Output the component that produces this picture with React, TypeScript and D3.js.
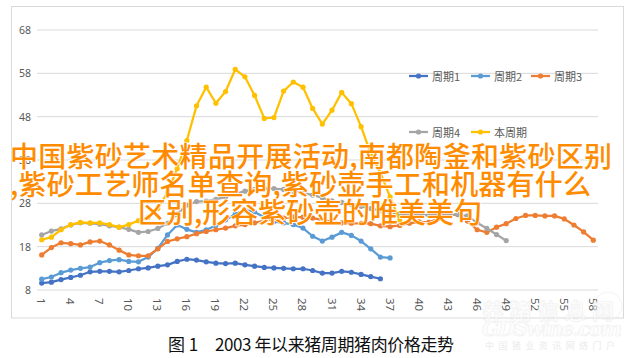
import React from "react";
import * as d3 from "d3";

const categories: number[] = Array.from({ length: 58 }, (_, i) => i + 1);
const yTicks = [8, 18, 28, 38, 48, 58, 68];
const xTickLabels = ["1","4","7","10","13","16","19","22","25","28","31","34","37","40","43","46","49","52","55","58"];

const cycle1 = [9.6, 9.8, 10.4, 10.9, 11.4, 12.2, 12.3, 12.3, 12.2, 12.5, 12.9, 13.1, 13.5, 13.8, 14.6, 15.1, 14.9, 14.5, 14.2, 14.1, 14.2, 13.8, 13.5, 13.2, 13.1, 13.0, 12.9, 12.9, 12.5, 11.9, 11.9, 12.3, 12.1, 11.6, 11.1, 10.6];
const cycle2 = [10.5, 11.0, 12.0, 12.6, 13.0, 13.3, 14.3, 14.8, 15.0, 14.6, 14.5, 15.6, 17.6, 20.7, 23.0, 22.0, 21.3, 21.9, 22.9, 24.2, 25.5, 26.5, 26.0, 24.8, 23.8, 23.5, 23.1, 22.3, 20.4, 19.3, 20.2, 21.3, 20.6, 19.3, 17.5, 15.6, 15.4];
const cycle3 = [16.1, 17.8, 18.9, 18.7, 18.4, 19.1, 19.3, 18.4, 17.2, 16.1, 15.9, 15.9, 17.5, 19.2, 19.8, 20.3, 21.0, 21.5, 21.9, 22.3, 22.8, 23.1, 23.5, 24.0, 24.3, 24.6, 24.8, 24.8, 24.6, 24.2, 23.8, 23.5, 23.4, 23.4, 23.3, 22.8, 22.6, 22.9, 23.4, 23.7, 23.6, 24.5, 25.3, 25.4, 23.9, 21.9, 21.3, 22.5, 23.3, 24.5, 25.2, 25.2, 25.1, 25.1, 24.4, 23.0, 21.4, 19.5];
const cycle4 = [20.7, 21.6, 22.1, 23.0, 23.5, 23.4, 23.2, 22.8, 22.5, 22.0, 21.3, 21.5, 22.2, 23.4, 25.5, 27.6, 28.4, 28.5, 28.9, 29.5, 30.2, 30.8, 31.2, 31.4, 31.4, 31.2, 30.8, 30.4, 29.9, 29.3, 28.6, 28.2, 27.8, 27.3, 26.8, 26.3, 25.9, 25.6, 25.4, 25.3, 25.3, 25.4, 25.5, 25.4, 25.1, 23.5, 22.2, 20.8, 19.4];
const current = [19.6, 20.2, 21.9, 23.1, 23.6, 23.5, 23.5, 23.1, 22.5, 23.1, 24.0, 24.8, 26.8, 30.5, 36.0, 42.5, 50.5, 54.8, 51.1, 53.8, 58.9, 57.2, 52.9, 47.6, 47.8, 53.9, 56.0, 54.8, 49.9, 46.3, 49.5, 53.6, 51.0, 45.7, 39.5, 35.0, 29.5, 24.0];

const seriesNames = ["周期1", "周期2", "周期3", "周期4", "本周期"];
const seriesColors = ["#4472C4", "#5B9BD5", "#ED7D31", "#A5A5A5", "#FFC000"];
const seriesData = [cycle1, cycle2, cycle3, cycle4, current];

const titleLines = [
  "中国紫砂艺术精品开展活动,南都陶釜和紫砂区别",
  ",紫砂工艺师名单查询,紫砂壶手工和机器有什么",
  "区别,形容紫砂壶的唯美美句",
];
const captionLabel = "图 1";
const captionText = "2003 年以来猪周期猪肉价格走势";
const watermarkLines = ["养猪信息网", "GDSwine.com", "中国猪业资讯网络门户"];

export default function App() {
  const W = 634, H = 358;
  const x = d3.scalePoint<number>().domain(categories).range([41.7, 593.3]);
  const y = d3.scaleLinear().domain([8, 68]).range([290, 30]);
  const line = d3.line<number>().x((_, i) => x(i + 1) as number).y((d) => y(d));
  const font = "'Noto Sans', 'Noto Sans CJK SC', sans-serif";
  const cjk = "'Noto Sans CJK SC', sans-serif";

  const legendItems = [
    { name: seriesNames[0], color: seriesColors[0], lx: 409, ly: 76 },
    { name: seriesNames[1], color: seriesColors[1], lx: 471, ly: 76 },
    { name: seriesNames[2], color: seriesColors[2], lx: 531, ly: 76 },
    { name: seriesNames[3], color: seriesColors[3], lx: 409, ly: 132 },
    { name: seriesNames[4], color: seriesColors[4], lx: 471, ly: 132 },
  ];

  return (
    <svg width={W} height={H} style={{ position: "absolute", left: 0, top: 0, background: "#fff" }}>
      <rect x={0} y={0} width={W} height={H} fill="#fff" />
      <rect x={11.5} y={6.5} width={612} height={311.5} fill="#fff" stroke="#d9d9d9" strokeWidth={1} />
      {yTicks.map((t) => (
        <g key={t}>
          <line x1={37} x2={598} y1={y(t)} y2={y(t)} stroke="#d9d9d9" strokeWidth={1} />
          <text x={31} y={y(t)} textAnchor="end" dominantBaseline="central" fontSize={10.5} fill="#595959" fontFamily={font}>{t}</text>
        </g>
      ))}
      {xTickLabels.map((lab) => {
        const cx = x(+lab) as number;
        return (
          <text key={lab} transform={`translate(${cx},${298}) rotate(90)`} textAnchor="start" dominantBaseline="central" fontSize={11.5} fill="#595959" fontFamily={font}>{lab}</text>
        );
      })}
      {seriesData.map((data, si) => (
        <g key={si}>
          <path d={line(data) || ""} fill="none" stroke={seriesColors[si]} strokeWidth={2.25} strokeLinejoin="round" />
          {data.map((v, i) => (
            <circle key={i} cx={x(i + 1)} cy={y(v)} r={2.6} fill={seriesColors[si]} />
          ))}
        </g>
      ))}
      {legendItems.map((it) => (
        <g key={it.name}>
          <line x1={it.lx} x2={it.lx + 19} y1={it.ly} y2={it.ly} stroke={it.color} strokeWidth={2.25} />
          <circle cx={it.lx + 9.5} cy={it.ly} r={2.6} fill={it.color} />
          <text x={it.lx + 23} y={it.ly} dominantBaseline="central" fontSize={11} fill="#595959" fontFamily={cjk}>{it.name}</text>
        </g>
      ))}
      <text x={168} y={343} dominantBaseline="central" fontSize={17} fill="#111" fontFamily={cjk}>{captionLabel}</text>
      <text x={215} y={343} dominantBaseline="central" fontSize={17} fill="#111" fontFamily={cjk} textLength={239}>{captionText}</text>
      <g opacity={0.6}>
        <text x={548} y={309} textAnchor="middle" dominantBaseline="central" fontSize={22} fontWeight={700} fill="#fdfdfd" stroke="#e8e8e8" strokeWidth={0.7} fontFamily={cjk} textLength={132}>{watermarkLines[0]}</text>
        <text x={552} y={329} textAnchor="middle" dominantBaseline="central" fontSize={20} fontWeight={700} fontStyle="italic" fill="#fdfdfd" stroke="#e8e8e8" strokeWidth={0.7} fontFamily="'DejaVu Serif', serif" textLength={140}>{watermarkLines[1]}</text>
        <text x={550} y={345} textAnchor="middle" dominantBaseline="central" fontSize={9} fill="#e0e0e0" fontFamily={cjk} textLength={130}>{watermarkLines[2]}</text>
        <circle cx={608} cy={306} r={14} fill="none" stroke="#eeeeee" strokeWidth={1} />
      </g>
      {titleLines.map((t, i) => (
        <text key={i} x={i === 2 ? 310 : 10} y={155 + i * 28} textAnchor={i === 2 ? "middle" : "start"} dominantBaseline="central" fontSize={28} fontWeight={500} fill="#FF8C00" stroke="#fff" strokeWidth={1.5} paintOrder="stroke" fontFamily={cjk} textLength={i === 0 ? 602 : i === 1 ? 581 : 344} lengthAdjust="spacing">{t}</text>
      ))}
    </svg>
  );
}
